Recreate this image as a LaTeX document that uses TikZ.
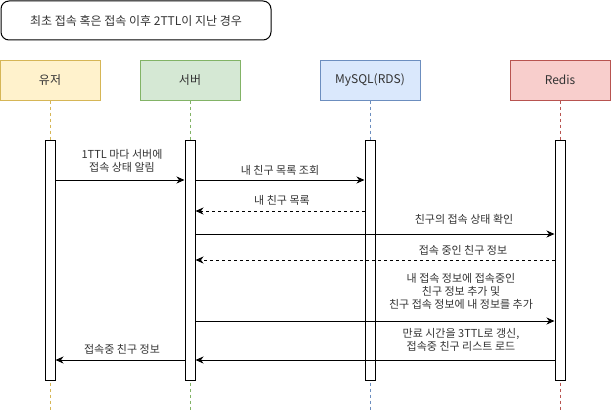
\documentclass[tikz,border=0pt]{standalone}
\usepackage{fontspec}
\setmainfont{Noto Sans CJK KR}
\usetikzlibrary{arrows.meta}
\definecolor{yfill}{HTML}{FFF2CC}\definecolor{ydraw}{HTML}{D6B656}
\definecolor{gfill}{HTML}{D5E8D4}\definecolor{gdraw}{HTML}{82B366}
\definecolor{bfill}{HTML}{DAE8FC}\definecolor{bdraw}{HTML}{6C8EBF}
\definecolor{rfill}{HTML}{F8CECC}\definecolor{rdraw}{HTML}{B85450}
\definecolor{txt}{HTML}{333333}
\begin{document}
\begin{tikzpicture}[x=1pt,y=-1pt,
  header/.style={draw, line width=1pt, minimum width=100pt, minimum height=40pt, inner sep=0pt, font=\fontsize{12}{14}\selectfont, text=txt},
  life/.style={line width=1pt, dash pattern=on 3pt off 3pt},
  bar/.style={draw, fill=white, line width=1pt, minimum width=10pt, minimum height=240pt, inner sep=0pt},
  msg/.style={line width=1pt, -{Stealth[length=8pt,width=7pt,inset=2.5pt]}},
  ret/.style={msg, dash pattern=on 3pt off 3pt},
  lbl/.style={font=\fontsize{11}{13}\selectfont, align=center, inner sep=0pt, text=txt}]
\useasboundingbox (0,0) rectangle (612,412);
\node[draw, rounded corners=8pt, line width=1pt, minimum width=270pt, minimum height=39pt, inner sep=0pt, font=\fontsize{12}{14}\selectfont, text=txt] (title) at (136,20.5) {최초 접속 혹은 접속 이후 2TTL이 지난 경우};
\node[header, fill=yfill, draw=ydraw] (u) at (50,80) {유저};
\node[header, fill=gfill, draw=gdraw] (s) at (190,80) {서버};
\node[header, fill=bfill, draw=bdraw] (m) at (370,80) {MySQL(RDS)};
\node[header, fill=rfill, draw=rdraw] (r) at (560,80) {Redis};
\coordinate (uend) at (50,412);
\coordinate (send) at (190,412);
\coordinate (mend) at (370,412);
\coordinate (rend) at (560,412);
\draw[life, ydraw] (u.south) -- (uend);
\draw[life, gdraw] (s.south) -- (send);
\draw[life, bdraw] (m.south) -- (mend);
\draw[life, rdraw] (r.south) -- (rend);
\node[bar] (ub) at (50,260) {};
\node[bar] (sb) at (190,260) {};
\node[bar] (mb) at (370,260) {};
\node[bar] (rb) at (560,260) {};
% messages
\draw[msg] (ub.east |- 0,180) -- (sb.west |- 0,180);
\node[lbl] (l1) at (122,161) {1TTL 마다 서버에\\접속 상태 알림};
\draw[msg] (sb.east |- 0,180) -- (mb.west |- 0,180);
\node[lbl] (l2) at (280,170) {내 친구 목록 조회};
\draw[ret] (mb.west |- 0,211) -- (sb.east |- 0,211);
\node[lbl] (l3) at (282,200) {내 친구 목록};
\draw[msg] (sb.east |- 0,234) -- (rb.west |- 0,234);
\node[lbl] (l4) at (464,219) {친구의 접속 상태 확인};
\draw[ret] (rb.west |- 0,260) -- (sb.east |- 0,260);
\node[lbl] (l5) at (463,250) {접속 중인 친구 정보};
\draw[msg] (sb.east |- 0,321) -- (rb.west |- 0,321);
\node[lbl] (l6) at (461,291) {내 접속 정보에 접속중인\\친구 정보 추가 및\\친구 접속 정보에 내 정보를 추가};
\draw[msg] (rb.west |- 0,360) -- (sb.east |- 0,360);
\node[lbl] (l7) at (461,340) {만료 시간을 3TTL로 갱신,\\접속중 친구 리스트 로드};
\draw[msg] (sb.west |- 0,360) -- (ub.east |- 0,360);
\node[lbl] (l8) at (122,349) {접속중 친구 정보};
\end{tikzpicture}
\end{document}
